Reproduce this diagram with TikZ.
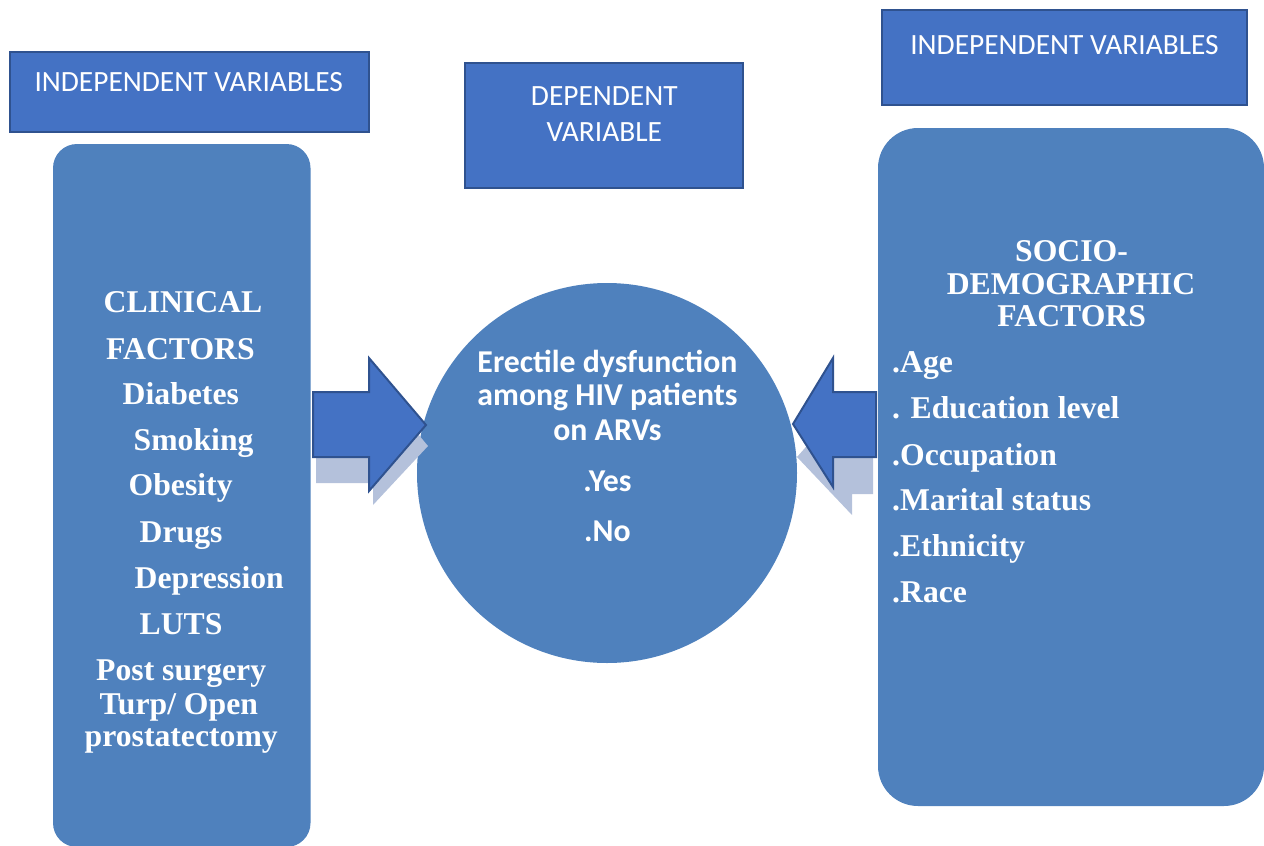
\documentclass[tikz,border=0pt]{standalone}
\usepackage{fontspec}
\setmainfont{Liberation Serif}
\newfontfamily\calibfont{Carlito}
\definecolor{boxblue}{HTML}{4472C4}
\definecolor{boxedge}{HTML}{2F528F}
\definecolor{panelblue}{HTML}{4F81BD}
\definecolor{shadeblue}{HTML}{B4C1DB}
\begin{document}
\begin{tikzpicture}[x=1pt,y=-1pt,
  header/.style={draw=boxedge, line width=2pt, fill=boxblue, rectangle, inner sep=0pt},
  panel/.style={fill=panelblue, rectangle, inner sep=0pt},
  blockarrow/.style={draw=boxedge, line width=2pt, fill=boxblue, line join=miter},
  arrowshade/.style={fill=shadeblue},
  hdrtext/.style={text=white, font=\calibfont\fontsize{29.4}{35}\selectfont, inner sep=0pt, anchor=base},
  circtext/.style={text=white, font=\calibfont\bfseries\fontsize{31.8}{34}\selectfont, inner sep=0pt, anchor=base},
  headtext/.style={text=white, font=\bfseries\fontsize{31.7}{33}\selectfont, inner sep=0pt, anchor=base},
  itemtext/.style={text=white, font=\bfseries\fontsize{31.7}{33}\selectfont, inner sep=0pt, anchor=base west}]
\clip (0,0) rectangle (1264,846);

% side panels and central outcome circle
\node[panel, rounded corners=24pt, minimum width=257.5pt, minimum height=703pt] (clin) at (181.75,495.5) {};
\node[panel, rounded corners=40pt, minimum width=386pt, minimum height=678pt] (socio) at (1071,467) {};
\node[fill=panelblue, circle, inner sep=0pt, minimum size=380pt] (ed) at (607,473) {};

% block arrows with their drop shadows
\fill[arrowshade] (316,414) -- (373,414) -- (373,380) -- (428,446) -- (373,505) -- (373,483) -- (316,483) -- cycle;
\fill[arrowshade] (797,457) -- (852,395) -- (852,420) -- (873,420) -- (873,494) -- (852,494) -- (852,515) -- cycle;
\draw[blockarrow] (313,392) -- (369,392) -- (369,358) -- (426,425) -- (369,491) -- (369,457) -- (313,457) -- cycle;
\draw[blockarrow] (793,424) -- (833,358) -- (833,392) -- (876,392) -- (876,457) -- (833,457) -- (833,487) -- cycle;

% heading boxes
\node[header, minimum width=359pt, minimum height=80.5pt] (hl) at (189,91.75) {};
\node[header, minimum width=277.5pt, minimum height=124.5pt] (hm) at (603.75,125.25) {};
\node[header, minimum width=365.5pt, minimum height=95pt] (hr) at (1064.25,57) {};
\node[hdrtext] (hlt) at (188.7,91.7) {INDEPENDENT VARIABLES};
\node[hdrtext] (hmt1) at (604.3,105) {DEPENDENT};
\node[hdrtext] (hmt2) at (604.3,141.7) {VARIABLE};
\node[hdrtext] (hrt) at (1064.5,54) {INDEPENDENT VARIABLES};

% clinical factors
\node[itemtext] (c1) at (103.5,312.3) {CLINICAL};
\node[itemtext] (c2) at (106,359) {FACTORS};
\node[itemtext] (c3) at (122.5,404) {Diabetes};
\node[itemtext] (c4) at (133.5,450.7) {Smoking};
\node[itemtext] (c5) at (128.5,495.7) {Obesity};
\node[itemtext] (c6) at (139.5,542.3) {Drugs};
\node[itemtext] (c7) at (134.5,588.3) {Depression};
\node[itemtext] (c8) at (139.5,634.3) {LUTS};
\node[itemtext] (c9) at (96,680.7) {Post surgery};
\node[itemtext] (c10) at (99.5,714) {Turp/ Open};
\node[itemtext] (c11) at (84.5,746.7) {prostatectomy};

% outcome
\node[circtext] (e1) at (607.5,372.3) {Erectile dysfunction};
\node[circtext] (e2) at (607.5,405.7) {among HIV patients};
\node[circtext] (e3) at (607.5,440.7) {on ARVs};
\node[circtext] (e4) at (607.5,491.7) {.Yes};
\node[circtext] (e5) at (607.5,541) {.No};

% socio-demographic factors
\node[headtext] (s1) at (1071.5,261.7) {SOCIO-};
\node[headtext] (s2) at (1071,294) {DEMOGRAPHIC};
\node[headtext] (s3) at (1071.7,326.7) {FACTORS};
\node[itemtext] (s4) at (892,372.7) {.Age};
\node[itemtext] (s5) at (892,418.3) {. Education level};
\node[itemtext] (s6) at (892,465) {.Occupation};
\node[itemtext] (s7) at (892,510.7) {.Marital status};
\node[itemtext] (s8) at (892,556.7) {.Ethnicity};
\node[itemtext] (s9) at (892,602.3) {.Race};
\end{tikzpicture}
\end{document}
